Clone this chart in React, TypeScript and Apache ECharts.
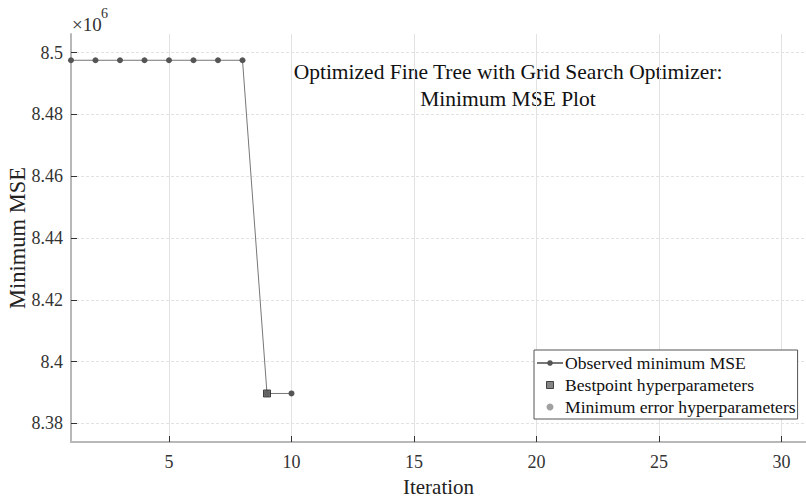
import React, { useEffect, useRef } from "react";
import * as echarts from "echarts";

const observedIter = [1, 2, 3, 4, 5, 6, 7, 8, 9, 10];
const observedMSE = [8.4975, 8.4975, 8.4975, 8.4975, 8.4975, 8.4975, 8.4975, 8.4975, 8.3897, 8.3897];
const bestPoint = [9, 8.3897];
const minErrorPoint = [9, 8.3897];
const titleLines = ["Optimized Fine Tree with Grid Search Optimizer:", "Minimum MSE Plot"];

const FONT = "Liberation Serif";
const SQUARE = "path://M0,0L10,0L10,10L0,10Z";

export default function App() {
  const ref = useRef<HTMLDivElement>(null);
  useEffect(() => {
    if (!ref.current) return;
    const chart = echarts.init(ref.current, undefined, { renderer: "svg" });
    chart.setOption({
      animation: false,
      backgroundColor: "#ffffff",
      textStyle: { fontFamily: FONT },
      grid: { left: 71, right: 0, top: 34, bottom: 62, outerBoundsMode: "none", containLabel: false },
      xAxis: {
        type: "value",
        min: 1,
        max: 31,
        splitNumber: 6,
        name: "Iteration",
        nameLocation: "middle",
        nameGap: 34,
        nameMoveOverlap: false,
        nameTextStyle: { fontFamily: FONT, fontSize: 21, color: "#222" },
        axisLine: { show: true, lineStyle: { color: "#b8b8b8", width: 2 } },
        axisTick: { show: true, inside: true, length: 6, lineStyle: { color: "#333" } },
        axisLabel: { fontFamily: FONT, fontSize: 18, color: "#333", margin: 11, showMinLabel: false, showMaxLabel: false },
        splitLine: { show: true, showMinLine: false, showMaxLine: false, lineStyle: { color: "#e2e2e2", width: 1 } },
      },
      yAxis: {
        type: "value",
        min: 8.374,
        max: 8.506,
        splitNumber: 6,
        name: "Minimum MSE",
        nameLocation: "middle",
        nameGap: 42,
        nameMoveOverlap: false,
        nameTextStyle: { fontFamily: FONT, fontSize: 22.5, color: "#222" },
        axisLine: { show: true, lineStyle: { color: "#b8b8b8", width: 2 } },
        axisTick: { show: true, inside: true, length: 6, lineStyle: { color: "#333" } },
        axisLabel: { fontFamily: FONT, fontSize: 18, color: "#333", margin: 8, showMinLabel: false, showMaxLabel: false },
        splitLine: { show: true, showMinLine: false, showMaxLine: false, lineStyle: { color: "#e2e2e2", width: 1, type: [3, 2] } },
      },
      legend: {
        orient: "vertical",
        left: 534,
        top: 350,
        backgroundColor: "#ffffff",
        borderColor: "#555",
        borderWidth: 1,
        borderRadius: 0,
        padding: [4, 2, 3, 2],
        itemGap: 4,
        itemWidth: 26,
        itemHeight: 7,
        textStyle: { fontFamily: FONT, fontSize: 17.6, color: "#111", padding: [0, 0, 0, -3] },
        data: [
          { name: "Observed minimum MSE" },
          { name: "Bestpoint hyperparameters", icon: SQUARE, itemStyle: { color: "#666", borderColor: "#222", borderWidth: 1 } },
          { name: "Minimum error hyperparameters", icon: "circle", itemStyle: { color: "#8a8a8a" } },
        ],
      },
      graphic: [
        { type: "text", x: 72, y: 15, style: { text: "×10", fontFamily: FONT, fontSize: 19, fill: "#333" } },
        { type: "text", x: 101, y: 6, style: { text: "6", fontFamily: FONT, fontSize: 14, fill: "#333" } },
        { type: "text", x: 508, y: 61, style: { text: titleLines[0], fontFamily: FONT, fontSize: 21.5, fill: "#111", textAlign: "center" } },
        { type: "text", x: 508, y: 88, style: { text: titleLines[1], fontFamily: FONT, fontSize: 21.5, fill: "#111", textAlign: "center" } },
      ],
      series: [
        {
          name: "Minimum error hyperparameters",
          type: "scatter",
          symbol: "circle",
          symbolSize: 7,
          itemStyle: { color: "#8a8a8a" },
          data: [minErrorPoint],
          z: 2,
        },
        {
          name: "Observed minimum MSE",
          type: "line",
          symbol: "circle",
          symbolSize: 6,
          showAllSymbol: true,
          lineStyle: { color: "#777", width: 1 },
          itemStyle: { color: "#555" },
          data: observedIter.map((x, i) => [x, observedMSE[i]]),
          z: 3,
        },
        {
          name: "Bestpoint hyperparameters",
          type: "scatter",
          symbol: "rect",
          symbolSize: 7,
          itemStyle: { color: "#666", borderColor: "#222", borderWidth: 1 },
          data: [bestPoint],
          z: 4,
        },
      ],
    });
    return () => chart.dispose();
  }, []);
  return <div ref={ref} style={{ width: 806, height: 504, position: "absolute", left: 0, top: 0 }} />;
}
